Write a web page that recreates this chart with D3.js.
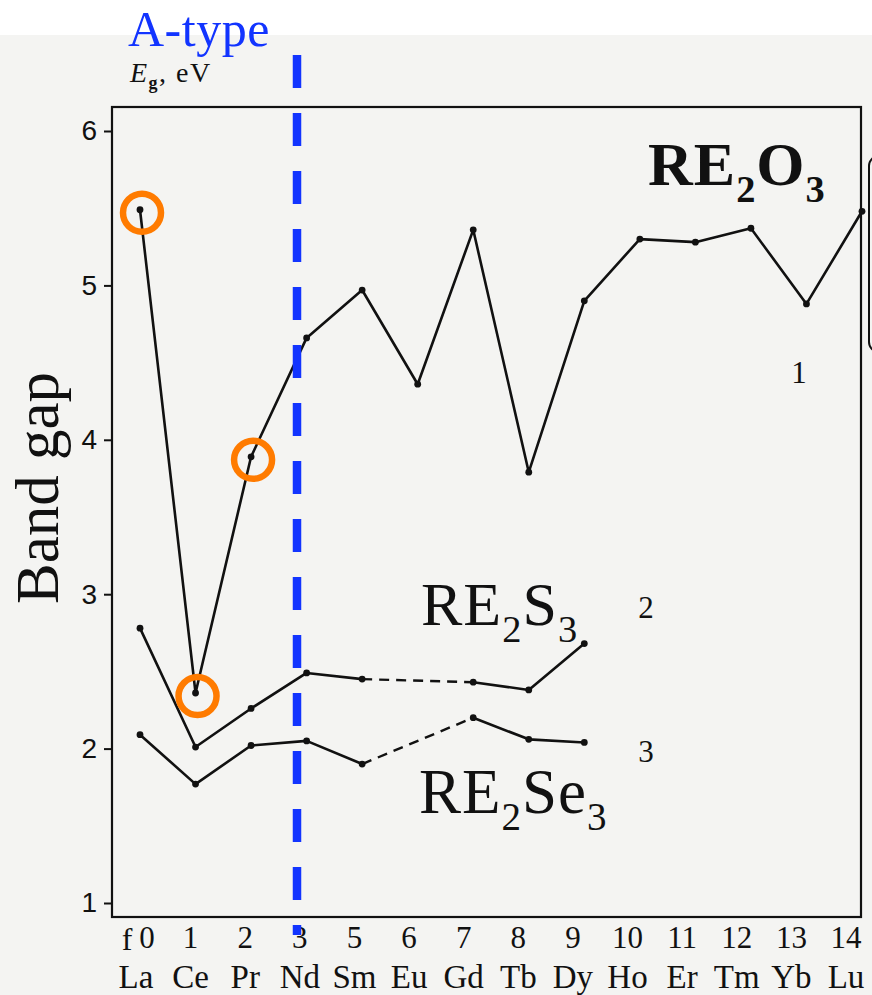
<!DOCTYPE html>
<html>
<head>
<meta charset="utf-8">
<script src="https://cdn.jsdelivr.net/npm/d3@7"></script>
<style>
body { margin: 0; background: #fff; }
svg { display: block; }
</style>
</head>
<body>
<script>
// elements and f-electron counts (Pm skipped in the original figure)
var elements = ["La","Ce","Pr","Nd","Sm","Eu","Gd","Tb","Dy","Ho","Er","Tm","Yb","Lu"];
var fCount = [0,1,2,3,5,6,7,8,9,10,11,12,13,14];
var yTicks = [1,2,3,4,5,6];

// band gap, eV
var oxides    = [5.49, 2.36, 3.89, 4.66, 4.97, 4.36, 5.36, 3.79, 4.90, 5.30, 5.28, 5.37, 4.88, 5.48];
var sulfides  = [2.78, 2.01, 2.26, 2.49, 2.45, null, 2.43, 2.38, 2.68, null, null, null, null, null];
var selenides = [2.09, 1.77, 2.02, 2.05, 1.90, null, 2.20, 2.06, 2.04, null, null, null, null, null];

// points circled in orange (indices into oxides)
var circled = [0, 1, 2];

var W = 872, H = 995;
var serif = "'Liberation Serif','Times New Roman',serif";
var blue = "#1234ff";

var svg = d3.select("body").append("svg")
	.attr("width", W)
	.attr("height", H);

// scanned page tone
svg.append("rect")
	.attr("x", 0).attr("y", 35)
	.attr("width", W).attr("height", H - 35)
	.attr("fill", "#f4f4f2");

var x = d3.scaleLinear().domain([0, 13]).range([140, 862]);
var xLab = d3.scaleLinear().domain([0, 13]).range([136, 846]);
var y = d3.scaleLinear().domain([1, 6]).range([903, 131]);

// frame
svg.append("rect")
	.attr("x", 112).attr("y", 107)
	.attr("width", 861 - 112).attr("height", 917 - 107)
	.attr("fill", "none")
	.attr("stroke", "#111")
	.attr("stroke-width", 2.2);

// y axis
var yAxis = svg.append("g")
	.attr("transform", "translate(112,0)")
	.call(d3.axisLeft(y).tickValues(yTicks).tickSize(8).tickPadding(7).tickFormat(d3.format("d")));
yAxis.select(".domain").remove();
yAxis.selectAll("line").attr("stroke", "#111").attr("stroke-width", 2);
yAxis.selectAll("text")
	.attr("font-family", "'Liberation Sans',Arial,sans-serif")
	.attr("font-size", 28)
	.attr("fill", "#111");

// E_g, eV
var eg = svg.append("text")
	.attr("x", 130).attr("y", 82)
	.attr("font-family", serif)
	.attr("font-size", 28)
	.attr("letter-spacing", 1.5)
	.attr("fill", "#111");
eg.append("tspan").attr("font-style", "italic").text("E");
eg.append("tspan").attr("font-size", 18).attr("font-weight", "bold").attr("dy", 7).text("g");
eg.append("tspan").attr("dy", -7).text(", eV");

// x labels: f-count row and element row
svg.append("text")
	.attr("x", 127).attr("y", 950)
	.attr("text-anchor", "middle")
	.attr("font-family", serif)
	.attr("font-size", 32)
	.attr("fill", "#111")
	.text("f");

svg.append("g").selectAll("text")
	.data(fCount)
	.enter().append("text")
	.attr("x", function(d, i){ return xLab(i) + (i === 0 ? 11 : 0); })
	.attr("y", 948)
	.attr("text-anchor", "middle")
	.attr("font-family", serif)
	.attr("font-size", 31)
	.attr("fill", "#111")
	.text(function(d){ return d; });

svg.append("g").selectAll("text")
	.data(elements)
	.enter().append("text")
	.attr("x", function(d, i){ return xLab(i); })
	.attr("y", 988)
	.attr("text-anchor", "middle")
	.attr("font-family", serif)
	.attr("font-size", 33)
	.attr("fill", "#111")
	.text(function(d){ return d; });

// Band gap
svg.append("text")
	.attr("transform", "translate(58,488) rotate(-90)")
	.attr("text-anchor", "middle")
	.attr("font-family", serif)
	.attr("font-size", 61)
	.attr("fill", "#111")
	.text("Band gap");

// curves
var line = d3.line()
	.defined(function(d){ return d != null; })
	.x(function(d, i){ return x(i); })
	.y(function(d){ return y(d); });

var drawCurve = function(vals){
	svg.append("path")
		.attr("d", line(vals))
		.attr("fill", "none")
		.attr("stroke", "#111")
		.attr("stroke-width", 2.6)
		.attr("stroke-linejoin", "round");

	// dashed bridge across missing elements
	var pts = [];
	vals.forEach(function(v, i){ if (v != null) pts.push([i, v]); });
	for (var k = 1; k < pts.length; k++) {
		if (pts[k][0] - pts[k-1][0] > 1) {
			svg.append("line")
				.attr("x1", x(pts[k-1][0])).attr("y1", y(pts[k-1][1]))
				.attr("x2", x(pts[k][0])).attr("y2", y(pts[k][1]))
				.attr("stroke", "#111")
				.attr("stroke-width", 2.4)
				.attr("stroke-dasharray", "10,7");
		}
	}

	svg.append("g").selectAll("circle")
		.data(pts)
		.enter().append("circle")
		.attr("cx", function(d){ return x(d[0]); })
		.attr("cy", function(d){ return y(d[1]); })
		.attr("r", 3.4)
		.attr("fill", "#111");
};

drawCurve(oxides);
drawCurve(sulfides);
drawCurve(selenides);

// curve numbers
var nums = [["1", 799, 383], ["2", 646, 618], ["3", 646, 762]];
nums.forEach(function(n){
	svg.append("text")
		.attr("x", n[1]).attr("y", n[2])
		.attr("text-anchor", "middle")
		.attr("font-family", serif)
		.attr("font-size", 31)
		.attr("fill", "#111")
		.text(n[0]);
});

// compound labels with subscripts
var formula = function(parts, px, py, size, weight){
	var t = svg.append("text")
		.attr("x", px).attr("y", py)
		.attr("font-family", serif)
		.attr("font-size", size)
		.attr("font-weight", weight)
		.attr("letter-spacing", 1)
		.attr("fill", "#111");
	var shift = 0;
	parts.forEach(function(p){
		var sub = /^\d$/.test(p);
		var dy = (sub ? size * 0.27 : 0) - shift;
		shift = sub ? size * 0.27 : 0;
		t.append("tspan")
			.attr("dy", dy)
			.attr("font-size", sub ? size * 0.62 : size)
			.text(p);
	});
};
formula(["RE", "2", "O", "3"], 648, 185, 62, "bold");
formula(["RE", "2", "S", "3"], 421, 625, 62, "normal");
formula(["RE", "2", "Se", "3"], 419, 813, 63, "normal");

// inset box cut by the page edge
svg.append("rect")
	.attr("x", 869).attr("y", 156)
	.attr("width", 60).attr("height", 196)
	.attr("rx", 10)
	.attr("fill", "none")
	.attr("stroke", "#111")
	.attr("stroke-width", 2);

// A-type boundary
svg.append("line")
	.attr("x1", 297).attr("y1", 55)
	.attr("x2", 297).attr("y2", 935)
	.attr("stroke", blue)
	.attr("stroke-width", 8.5)
	.attr("stroke-dasharray", "33,25");

svg.append("text")
	.attr("x", 128).attr("y", 46)
	.attr("font-family", serif)
	.attr("font-size", 50)
	.attr("letter-spacing", 0.5)
	.attr("fill", blue)
	.text("A-type");

// orange highlight rings
svg.append("g").selectAll("circle")
	.data(circled)
	.enter().append("circle")
	.attr("cx", function(i){ return x(i) + 2; })
	.attr("cy", function(i){ return y(oxides[i]) + 3; })
	.attr("r", 19)
	.attr("fill", "none")
	.attr("stroke", "#ff7b00")
	.attr("stroke-width", 6.5);
</script>
</body>
</html>
